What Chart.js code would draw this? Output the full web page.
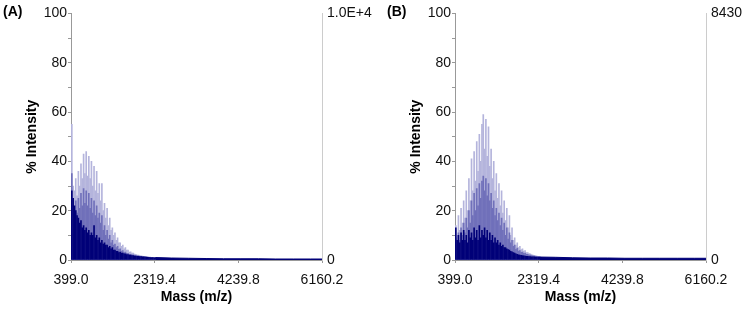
<!DOCTYPE html>
<html>
<head>
<meta charset="utf-8">
<script src="https://cdn.jsdelivr.net/npm/chart.js@4.4.1/dist/chart.umd.min.js"></script>
<style>
  html, body { margin: 0; padding: 0; background: #fff; }
  body { width: 745px; height: 309px; position: relative; overflow: hidden; }
  .panel { position: absolute; top: 0; height: 309px; }
  #panelA { left: 0; width: 372px; }
  #panelB { left: 384px; width: 361px; }
</style>
</head>
<body>
<div class="panel" id="panelA"><canvas id="chartA"></canvas></div>
<div class="panel" id="panelB"><canvas id="chartB"></canvas></div>
<script>
// peak positions (m/z) for the dense part of the spectra
const massGrid = [
  418, 448, 478, 508, 538, 568, 598, 628, 658, 688, 718, 748, 778, 808, 838, 868,
  898, 928, 958, 988, 1018, 1048, 1078, 1108, 1138, 1168, 1198, 1228, 1258, 1288, 1318, 1348,
  1378, 1408, 1438, 1468, 1498, 1528, 1558, 1588, 1618, 1648, 1678, 1708, 1738, 1768, 1798, 1828,
  1858, 1888, 1918, 1948, 1978, 2008, 2038, 2068, 2098, 2128, 2158, 2188, 2218, 2248, 2278, 2308,
  2338
];
const xTickValues = [399.0, 2319.4, 4239.8, 6160.2];

// panel A (% intensity)
const lightA = [55, 30, 28, 33, 26, 36, 30, 39, 33, 43, 35, 44, 34, 42, 33, 40, 30, 38, 28, 36,
  27, 31, 24, 31, 20, 23, 17, 21, 14, 17, 12, 13, 10, 11, 8, 9, 7, 7, 5.5, 6,
  4.5, 5, 4, 4, 3.2, 3.3, 2.8, 2.8, 2.4, 2.3, 2, 2, 1.8, 1.7, 1.6, 1.5, 1.4, 1.3, 1.3, 1.2,
  1.2, 1.1, 1.1, 1, 1];
const midA = [35, 22, 20, 24, 19, 25, 21, 27, 22, 29, 23, 28, 22, 27, 21, 25, 19, 24, 18, 22,
  17, 19, 15, 18, 12, 14, 10, 12, 8.5, 10, 7, 8, 6, 6.5, 5, 5.5, 4.3, 4.5, 3.6, 3.8,
  3, 3.2, 2.7, 2.7, 2.3, 2.3, 2.1, 2.1, 1.9, 1.8, 1.7, 1.7, 1.5, 1.5, 1.4, 1.3, 1.3, 1.2, 1.2, 1.1,
  1.1, 1, 1, 0.9, 0.9];
const darkA = [28, 25, 22, 20, 18, 17, 15, 16, 13, 14, 12, 13, 11, 12, 10, 11, 10, 14, 9, 10,
  8, 9, 7, 8, 6.5, 7, 6, 6, 5, 5.5, 4.5, 5, 4, 4, 3.5, 3.5, 3, 3.2, 2.8, 2.8,
  2.5, 2.5, 2.2, 2.2, 2, 2, 1.8, 1.8, 1.6, 1.6, 1.5, 1.5, 1.4, 1.4, 1.3, 1.3, 1.2, 1.2, 1.1, 1.1,
  1, 1, 1, 0.9, 0.9];

// panel B (% intensity)
const lightB = [14, 10, 18, 12, 21, 15, 24, 17, 28, 20, 33, 24, 41, 28, 44, 32, 48, 36, 51, 40,
  55, 59, 45, 57, 42, 54, 38, 45, 33, 40, 28, 35, 25, 31, 22, 28, 19, 24, 16, 21,
  13, 18, 10, 13, 8, 9, 6, 7, 5, 5.5, 4.2, 4.5, 3.6, 3.8, 3, 3, 2.6, 2.5, 2.2, 2,
  1.9, 1.8, 1.6, 1.5, 1.4];
const midB = [9, 7, 11, 8, 13, 10, 15, 11, 17, 13, 20, 15, 24, 18, 27, 20, 29, 22, 31, 25,
  32, 34, 28, 33, 26, 31, 24, 27, 21, 24, 18, 21, 16, 19, 14, 17, 12, 15, 10, 13,
  8.5, 11, 7, 8, 5.5, 6, 4.3, 4.8, 3.6, 3.8, 3.1, 3.2, 2.7, 2.8, 2.3, 2.3, 2, 2, 1.8, 1.7,
  1.6, 1.5, 1.4, 1.3, 1.2];
const darkB = [13, 8, 10, 7, 11, 8, 12, 8, 10, 7, 12, 9, 11, 8, 13, 9, 12, 8, 14, 9,
  12, 10, 13, 9, 12, 8, 11, 8, 10, 7, 9, 7, 8, 6, 7, 5.5, 6, 5, 5, 4.5,
  4.2, 4, 3.5, 3.3, 3, 2.8, 2.5, 2.3, 2.1, 2, 1.9, 1.8, 1.7, 1.6, 1.5, 1.5, 1.4, 1.4, 1.3, 1.3,
  1.3, 1.2, 1.2, 1.2, 1.2];

// low-level tail out to the end of the mass range
const tailMass = [2338, 2700, 3100, 3500, 3900, 4300, 4700, 5100, 5500, 5900, 6160];
const tailA = [1, 0.8, 0.7, 0.6, 0.5, 0.5, 0.5, 0.4, 0.4, 0.4, 0.4];
const tailB = [1.2, 1.1, 0.9, 0.8, 0.8, 0.7, 0.7, 0.7, 0.7, 0.7, 0.7];

const LIGHT = "rgb(180, 180, 220)";
const MID = "rgb(112, 112, 186)";
const DARK = "rgb(0, 0, 120)";
const FONT = "'Liberation Sans', Arial, sans-serif";

function toPoints(xs, ys) {
  return xs.map((x, i) => ({ x: x, y: ys[i] }));
}

function barSet(values, color, order) {
  return {
    type: "bar",
    data: toPoints(massGrid, values),
    backgroundColor: color,
    borderWidth: 0,
    barThickness: 1,
    grouped: false,
    order: order,
  };
}

// draws the "(A)" / "(B)" panel tag in the top-left corner
const panelTag = {
  id: "panelTag",
  afterDraw(chart, args, opts) {
    const ctx = chart.ctx;
    ctx.save();
    ctx.font = "bold 14px " + FONT;
    ctx.fillStyle = "#000";
    ctx.textBaseline = "middle";
    ctx.textAlign = "left";
    ctx.fillText(opts.text, 3, 12);
    ctx.restore();
  },
};

function makePanel(canvasId, tag, light, mid, dark, tail, topLabel, panelWidth) {
  const ctx = document.getElementById(canvasId).getContext("2d");
  return new Chart(ctx, {
    type: "bar",
    data: {
      datasets: [
        barSet(light, LIGHT, 3),
        barSet(mid, MID, 2),
        barSet(dark, DARK, 1),
        {
          type: "line",
          data: toPoints(tailMass, tail),
          borderColor: DARK,
          backgroundColor: DARK,
          borderWidth: 1,
          pointRadius: 0,
          fill: "origin",
          tension: 0,
          order: 0,
        },
      ],
    },
    plugins: [panelTag],
    options: {
      responsive: false,
      animation: false,
      layout: { padding: { top: 10, left: 0, right: 0, bottom: 0 } },
      plugins: {
        legend: { display: false },
        tooltip: { enabled: false },
        panelTag: { text: tag },
      },
      scales: {
        x: {
          type: "linear",
          offset: false,
          min: 399,
          max: 6160.2,
          afterBuildTicks: (scale) => {
            scale.ticks = xTickValues.map((v) => ({ value: v }));
          },
          afterFit: (scale) => {
            scale.height = 49;
          },
          ticks: {
            autoSkip: false,
            maxRotation: 0,
            padding: 9,
            color: "#111",
            font: { family: FONT, size: 14 },
            callback: (v) => Number(v).toFixed(1),
          },
          grid: { display: true, offset: false, drawOnChartArea: false, tickLength: 3, color: "#999" },
          border: { display: true, color: "#999" },
          title: {
            display: true,
            text: "Mass (m/z)",
            color: "#000",
            font: { family: FONT, size: 14, weight: "bold" },
            padding: { top: 0, bottom: 3 },
          },
        },
        y: {
          position: "left",
          min: 0,
          max: 100,
          afterFit: (scale) => {
            scale.width = 71;
          },
          ticks: {
            stepSize: 10,
            autoSkip: false,
            padding: 1,
            color: "#111",
            font: { family: FONT, size: 14 },
            callback: (v) => (v % 20 === 0 ? v : ""),
          },
          grid: { display: true, drawOnChartArea: false, tickLength: 3, color: "#999" },
          border: { display: true, color: "#999" },
          title: {
            display: true,
            text: "% Intensity",
            color: "#000",
            font: { family: FONT, size: 14, weight: "bold" },
            padding: { top: 24, bottom: 0 },
          },
        },
        y2: {
          position: "right",
          min: 0,
          max: 100,
          afterBuildTicks: (scale) => {
            scale.ticks = [{ value: 0 }, { value: 100 }];
          },
          afterFit: (scale) => {
            scale.width = panelWidth - 322;
          },
          ticks: {
            autoSkip: false,
            padding: 5,
            color: "#111",
            font: { family: FONT, size: 14 },
            callback: (v) => (v === 100 ? topLabel : "0"),
          },
          grid: { display: false, drawTicks: false },
          border: { display: true, color: "#ccc" },
        },
      },
    },
  });
}

document.getElementById("chartA").width = 372;
document.getElementById("chartA").height = 309;
document.getElementById("chartB").width = 361;
document.getElementById("chartB").height = 309;

makePanel("chartA", "(A)", lightA, midA, darkA, tailA, "1.0E+4", 372);
makePanel("chartB", "(B)", lightB, midB, darkB, tailB, "8430", 361);
</script>
</body>
</html>
